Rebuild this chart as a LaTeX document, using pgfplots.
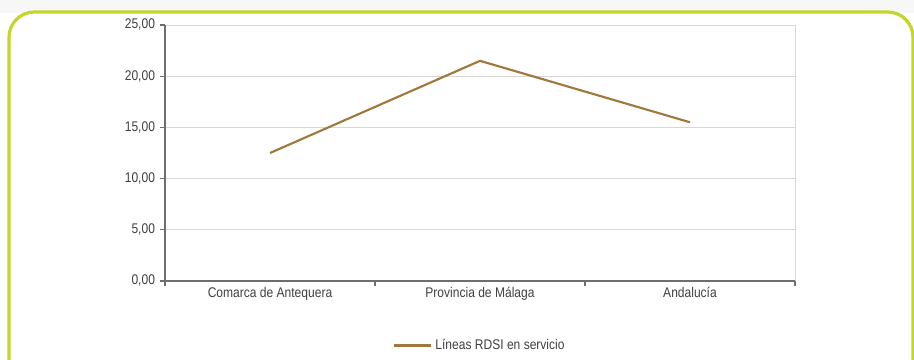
\documentclass[border=0pt]{standalone}
\usepackage{pgfplots}
\pgfplotsset{compat=1.18}
\usepackage{fontspec}
\setmainfont[FakeStretch=0.86]{Liberation Sans}
\definecolor{lima}{RGB}{196,214,40}
\definecolor{linea}{RGB}{160,120,60}
\definecolor{rejilla}{RGB}{215,215,215}
\definecolor{ejes}{RGB}{110,110,110}
\begin{document}
\begin{tikzpicture}[x=0.75pt,y=0.75pt]
\useasboundingbox (0,0) rectangle (914,360);
% fondo y marco redondeado
\fill[gray!6] (0,0) rectangle (914,360);
\fill[white] (0,0) rectangle (914,347);
\begin{scope}
\clip (0,0) rectangle (914,360);
\draw[lima, line width=2.4pt, rounded corners=19pt]
    (9,-20) -- (9,348) -- (913,348) -- (913,-20);
\end{scope}
\begin{axis}[
    at={(123.75pt,59.25pt)}, anchor=south west,
    width=472.5pt, height=192pt, scale only axis,
    xmin=0, xmax=3, ymin=0, ymax=25,
    xtick={0,1,2,3}, xticklabels={},
    extra x ticks={0.5,1.5,2.5},
    extra x tick labels={Comarca de Antequera, Provincia de Málaga, Andalucía},
    extra x tick style={major tick length=0pt, grid=none},
    ytick={0,5,...,25},
    yticklabel={\pgfmathprintnumber[fixed, fixed zerofill, precision=2, use comma]{\tick}},
    /pgf/number format/assume math mode=true,
    ymajorgrids, grid style={rejilla, line width=0.6pt},
    axis x line*=bottom, axis y line*=left,
    axis line style={ejes, line width=0.8pt},
    tick style={ejes, line width=0.8pt},
    major tick length=4pt,
    xtick align=outside, ytick align=outside,
    tick label style={font=\fontsize{10.5}{12}\selectfont, text=black!75},
    xticklabel style={yshift=-1pt},
    legend style={at={(0.5,-0.205)}, anchor=north, draw=none, fill=none,
        font=\fontsize{10.5}{12}\selectfont, text=black!75},
    legend image code/.code={\draw[#1, line width=2pt] (0pt,0pt) -- (28pt,0pt);},
    clip=false,
]
\draw[rejilla, line width=0.6pt] (axis cs:3,0) -- (axis cs:3,25);
\addplot[linea, line width=1.6pt] coordinates {(0.5,12.5) (1.5,21.5) (2.5,15.5)};
\addlegendentry{Líneas RDSI en servicio}
\end{axis}
\end{tikzpicture}
\end{document}
